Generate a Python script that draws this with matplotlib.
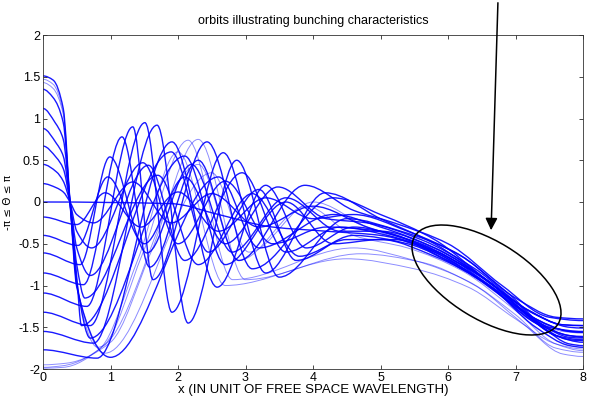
import numpy as np
import matplotlib
matplotlib.use("Agg")
import matplotlib.pyplot as plt
from matplotlib.path import Path
from matplotlib.patches import PathPatch, Ellipse

# ---- data: orbit key points (x, theta) ----
# positive initial phases
orbit_p1 = [(0, 0.22), (0.2, 0.17), (0.3, 0.12), (0.4, 0.0), (0.5, -0.15), (0.75, -0.25), (1.33, 0.24), (1.9, -0.25),
            (2.5, 0.1), (3.2, -0.3), (4.0, -0.05), (4.8, -0.3), (5.6, -0.5), (6.4, -0.85), (7.2, -1.3), (7.7, -1.47), (8.0, -1.48)]
orbit_p2 = [(0, 0.45), (0.2, 0.36), (0.3, 0.25), (0.4, 0.0), (0.5, -0.35), (0.72, -0.55), (1.48, 0.47), (2.0, -0.5),
            (2.7, 0.25), (3.4, -0.5), (4.2, -0.3), (5.0, -0.35), (5.8, -0.6), (6.6, -1.0), (7.3, -1.45), (7.8, -1.65), (8.0, -1.66)]
orbit_p3 = [(0, 0.67), (0.2, 0.53), (0.3, 0.4), (0.4, 0.0), (0.5, -0.55), (0.7, -0.88), (1.56, 0.44), (2.1, -0.7),
            (2.95, 0.35), (3.6, -0.6), (4.4, -0.3), (5.1, -0.4), (5.9, -0.62), (6.7, -1.05), (7.4, -1.5), (7.8, -1.7), (8.0, -1.72)]
orbit_p4 = [(0, 0.88), (0.2, 0.7), (0.3, 0.55), (0.4, 0.0), (0.5, -0.75), (0.62, -1.15), (1.7, 0.32), (2.3, -0.75),
            (3.1, 0.1), (3.8, -0.65), (4.5, -0.45), (5.2, -0.45), (6.0, -0.7), (6.8, -1.1), (7.4, -1.48), (7.8, -1.62), (8.0, -1.63)]
orbit_p5 = [(0, 1.12), (0.18, 0.95), (0.3, 0.75), (0.4, 0.0), (0.5, -0.9), (0.57, -1.48), (1.9, 0.6), (2.45, -0.6),
            (3.2, 0.15), (3.75, -0.7), (4.6, -0.4), (5.4, -0.5), (6.2, -0.8), (7.0, -1.25), (7.6, -1.6), (8.0, -1.68)]
orbit_p6 = [(0, 1.35), (0.15, 1.25), (0.3, 0.95), (0.4, 0.0), (0.5, -0.95), (0.7, -1.63), (2.1, 0.55), (2.7, -0.75),
            (3.6, 0.0), (4.3, -0.5), (5.0, -0.45), (5.8, -0.65), (6.6, -1.0), (7.3, -1.5), (7.8, -1.72), (8.0, -1.74)]
orbit_p7 = [(0, 1.43), (0.15, 1.36), (0.3, 1.05), (0.4, 0.0), (0.5, -1.0), (0.81, -1.74), (2.3, 0.45), (2.9, -0.7),
            (3.9, -0.05), (4.6, -0.4), (5.4, -0.55), (6.2, -0.82), (7.0, -1.3), (7.6, -1.7), (8.0, -1.78)]
orbit_p8 = [(0, 1.47), (0.15, 1.41), (0.3, 1.08), (0.4, 0.0), (0.5, -1.0), (0.92, -1.81), (2.5, 0.35), (3.05, -0.6),
            (4.0, 0.0), (4.8, -0.3), (5.6, -0.55), (6.4, -0.9), (7.2, -1.35), (7.7, -1.55), (8.0, -1.57)]
orbit_p9 = [(0, 1.51), (0.15, 1.46), (0.3, 1.12), (0.4, 0.0), (0.5, -1.02), (1.0, -1.86), (2.6, 0.3), (3.2, -0.55),
            (4.3, -0.15), (5.0, -0.3), (5.8, -0.55), (6.6, -0.95), (7.3, -1.4), (7.8, -1.55), (8.0, -1.56)]
# zero initial phase
orbit_z = [(0, 0.0), (1.9, -0.02), (2.6, -0.15), (3.4, -0.3), (4.2, -0.35), (5.0, -0.4), (5.8, -0.6), (6.6, -1.0),
           (7.3, -1.45), (7.8, -1.6), (8.0, -1.62)]
# negative initial phases
orbit_n1 = [(0, -0.18), (0.5, -0.27), (0.92, 0.11), (1.45, -0.3), (2.0, 0.12), (2.6, -0.35), (3.3, 0.05), (4.0, -0.2),
            (4.6, -0.15), (5.4, -0.35), (6.2, -0.65), (7.0, -1.15), (7.6, -1.38), (8.0, -1.4)]
orbit_n2 = [(0, -0.40), (0.52, -0.52), (0.96, 0.3), (1.5, -0.5), (2.1, 0.3), (2.7, -0.5), (3.48, 0.18), (4.2, -0.2),
            (4.8, -0.25), (5.6, -0.45), (6.4, -0.8), (7.2, -1.3), (7.7, -1.47), (8.0, -1.48)]
orbit_n3 = [(0, -0.61), (0.55, -0.75), (0.99, 0.54), (1.54, -0.61), (2.2, 0.45), (2.8, -0.6), (3.6, 0.05), (4.4, -0.35),
            (5.0, -0.35), (5.8, -0.55), (6.6, -0.95), (7.3, -1.42), (7.8, -1.6), (8.0, -1.61)]
orbit_n4 = [(0, -0.85), (0.6, -0.99), (1.17, 0.78), (1.58, -0.78), (2.3, 0.5), (2.9, -0.7), (3.88, 0.2), (4.6, -0.1),
            (5.2, -0.25), (6.0, -0.5), (6.8, -1.0), (7.5, -1.38), (8.0, -1.42)]
orbit_n5 = [(0, -1.09), (0.65, -1.25), (1.33, 0.9), (1.63, -0.93), (2.43, 0.72), (3.1, -0.8), (4.3, 0.05), (5.0, -0.15),
            (5.8, -0.45), (6.6, -0.95), (7.3, -1.35), (7.8, -1.5), (8.0, -1.51)]
orbit_n6 = [(0, -1.32), (0.7, -1.48), (1.51, 0.95), (1.91, -1.32), (2.67, 0.59), (3.3, -0.85), (4.18, 0.11), (5.0, -0.2),
            (5.8, -0.5), (6.6, -0.95), (7.3, -1.4), (7.8, -1.55), (8.0, -1.56)]
orbit_n7 = [(0, -1.55), (0.75, -1.69), (1.69, 0.92), (2.15, -1.45), (2.87, 0.5), (3.5, -0.9), (4.5, -0.2), (5.3, -0.35),
            (6.1, -0.6), (6.9, -1.1), (7.5, -1.5), (8.0, -1.55)]
orbit_n8 = [(0, -1.77), (0.8, -1.87), (1.91, 0.72), (2.58, -1.02), (3.3, 0.2), (3.9, -0.55), (4.6, -0.3), (5.4, -0.45),
            (6.2, -0.75), (7.0, -1.2), (7.6, -1.6), (8.0, -1.65)]
orbit_f1 = [(0, -1.98), (0.3, -1.96), (0.9, -1.72), (1.47, -0.63), (2.15, 0.74), (2.81, -0.93), (4.6, -0.55), (5.5, -0.7),
            (6.3, -0.95), (7.0, -1.35), (7.6, -1.75), (8.0, -1.8)]
orbit_f2 = [(0, -1.95), (0.35, -1.93), (1.0, -1.68), (1.6, -0.6), (2.3, 0.75), (3.0, -0.93), (4.7, -0.62), (5.6, -0.72),
            (6.4, -1.0), (7.1, -1.45), (7.7, -1.82), (8.0, -1.85)]
orbit_f3 = [(0, -1.99), (0.3, -1.98), (0.85, -1.75), (1.4, -0.7), (2.0, 0.6), (2.7, -1.0), (4.5, -0.68), (5.5, -0.8),
            (6.3, -1.02), (7.0, -1.4), (7.6, -1.7), (8.0, -1.76)]

bold_orbits = [orbit_p1, orbit_p2, orbit_p3, orbit_p4, orbit_p5, orbit_p6, orbit_p9, orbit_z,
               orbit_n1, orbit_n2, orbit_n3, orbit_n4, orbit_n5, orbit_n6, orbit_n7, orbit_n8]
faint_orbits = [orbit_p7, orbit_p8, orbit_f1, orbit_f2, orbit_f3]

x_ticks = [0, 1, 2, 3, 4, 5, 6, 7, 8]
y_ticks = [-2, -1.5, -1, -0.5, 0, 0.5, 1, 1.5, 2]
y_ticklabels = ["-2", "-1.5", "-1", "-0.5", "0", "0.5", "1", "1.5", "2"]


def orbit_path(pts):
    """Smooth monotone cubic (Bezier) path through the key points."""
    x = np.array([p[0] for p in pts], float)
    y = np.array([p[1] for p in pts], float)
    h = np.diff(x)
    d = np.diff(y) / h
    m = np.zeros(len(x))
    for k in range(1, len(x) - 1):
        if d[k - 1] * d[k] > 0:
            w1 = 2 * h[k] + h[k - 1]
            w2 = h[k] + 2 * h[k - 1]
            m[k] = (w1 + w2) / (w1 / d[k - 1] + w2 / d[k])
    verts = [(x[0], y[0])]
    codes = [Path.MOVETO]
    for k in range(len(x) - 1):
        verts += [(x[k] + h[k] / 3, y[k] + m[k] * h[k] / 3),
                  (x[k + 1] - h[k] / 3, y[k + 1] - m[k + 1] * h[k] / 3),
                  (x[k + 1], y[k + 1])]
        codes += [Path.CURVE4] * 3
    return Path(verts, codes)


plt.rcParams['font.family'] = ['Liberation Sans', 'DejaVu Sans']

fig = plt.figure(figsize=(5.91, 4.03), dpi=100)
ax = fig.add_axes([43 / 591, 1 - 369 / 403, 540 / 591, 334 / 403])

for pts in faint_orbits:
    ax.add_patch(PathPatch(orbit_path(pts), fill=False, edgecolor=(0, 0, 1), lw=0.7, alpha=0.45))
for pts in bold_orbits:
    ax.add_patch(PathPatch(orbit_path(pts), fill=False, edgecolor=(0, 0, 1), lw=1.0, alpha=0.9))

ax.set_xlim(0, 8)
ax.set_ylim(-2, 2)
ax.set_xticks(x_ticks)
ax.set_yticks(y_ticks)
ax.set_yticklabels(y_ticklabels)
ax.tick_params(direction='in', top=True, right=True, length=3, width=0.5, labelsize=9, pad=2)
for sp in ax.spines.values():
    sp.set_linewidth(0.6)
    sp.set_color('#333333')

ax.set_title('orbits illustrating bunching characteristics', fontsize=9, pad=8)
ax.set_xlabel('x (IN UNIT OF FREE SPACE WAVELENGTH)', fontsize=9.5, labelpad=0)
ax.set_ylabel('-π ≤ Θ ≤ π', fontsize=7.5, labelpad=4, family=['DejaVu Sans'])

# annotation: ellipse around converged bunch and arrow pointing at it
fig.add_artist(Ellipse((4.865, 1.23), 1.68, 0.78, angle=-31.4, transform=fig.dpi_scale_trans,
                       fill=False, edgecolor='black', lw=1.1))
ax.annotate('', xy=(491, 403 - 233), xycoords='figure pixels', xytext=(498, 403), textcoords='figure pixels',
            arrowprops=dict(arrowstyle='-|>', color='black', lw=1.1, mutation_scale=18), annotation_clip=False)

fig.savefig('out.png', dpi=100)
